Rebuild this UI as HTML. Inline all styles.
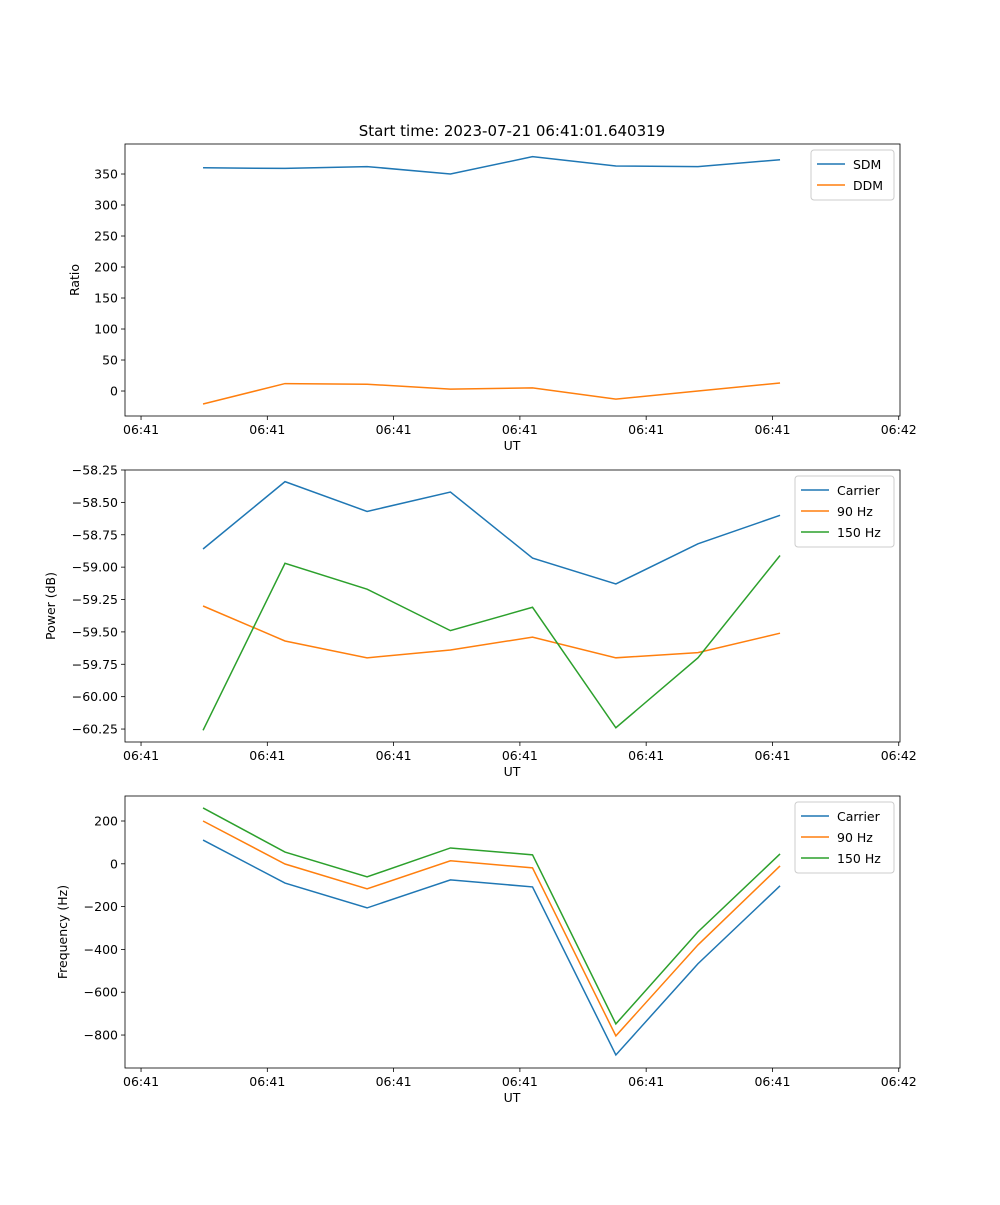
<!DOCTYPE html>
<html><head><meta charset="utf-8"><style>
body{margin:0;background:#fff}
svg text{font-family:"DejaVu Sans","Liberation Sans",sans-serif;font-size:12.5px;fill:#000}
</style></head><body>
<svg id="fig" width="1000" height="1200" xmlns="http://www.w3.org/2000/svg"></svg>
<script>
const times=[4.91,11.4,17.9,24.5,31.0,37.6,44.1,50.6];
const xTickVals=[0,10,20,30,40,50,60];
const xTickLabels=["06:41","06:41","06:41","06:41","06:41","06:41","06:42"];
const sdm=[360,359,362,350,378,363,362,373];
const ddm=[-21,12,11,3,5,-13,0,13];
const ratioTicks=[0,50,100,150,200,250,300,350];
const pwrCarrier=[-58.86,-58.34,-58.57,-58.42,-58.93,-59.13,-58.82,-58.60];
const pwr90=[-59.30,-59.57,-59.70,-59.64,-59.54,-59.70,-59.66,-59.51];
const pwr150=[-60.26,-58.97,-59.17,-59.49,-59.31,-60.24,-59.70,-58.91];
const pwrTicks=[-60.25,-60.00,-59.75,-59.50,-59.25,-59.00,-58.75,-58.50,-58.25];
const frqCarrier=[111,-90,-206,-75,-108,-893,-467,-103];
const frq90=[200,-1,-117,14,-19,-804,-379,-10];
const frq150=[261,55,-61,74,42,-748,-318,46];
const frqTicks=[-800,-600,-400,-200,0,200];
const C=["#1f77b4","#ff7f0e","#2ca02c"];
const NS="http://www.w3.org/2000/svg";
const svg=document.getElementById('fig');
function mk(t,a,p){const e=document.createElementNS(NS,t);for(const k in a)e.setAttribute(k,a[k]);(p||svg).appendChild(e);return e;}
const X0=125,X1=900;
const xs=t=>X0+(t+1.27)*(X1-X0)/61.37;
function panel(name,top,bot,ymin,ymax,ticks,fmt,ylabel,ylx,series,names,legW){
  const g=mk('g',{});
  
  
  const ys=v=>bot-(v-ymin)*(bot-top)/(ymax-ymin);
  series.forEach((s,i)=>{
    const p=mk('polyline',{points:s.map((v,j)=>xs(times[j])+','+ys(v)).join(' '),fill:'none',stroke:C[i],'stroke-width':1.5},g);
    
    
  });
  mk('rect',{x:X0,y:top,width:X1-X0,height:bot-top,fill:'none',stroke:'#000','stroke-width':0.8},g);
  xTickVals.forEach((v,i)=>{const x=xs(v);mk('line',{x1:x,x2:x,y1:bot,y2:bot+4,stroke:'#000','stroke-width':0.8},g);
    const t=mk('text',{x:x,y:bot+18,'text-anchor':'middle'},g);t.textContent=xTickLabels[i];
    });
  ticks.forEach(v=>{const y=ys(v);mk('line',{x1:X0-4,x2:X0,y1:y,y2:y,stroke:'#000','stroke-width':0.8},g);
    const t=mk('text',{x:X0-7,y:y+4.5,'text-anchor':'end'},g);t.textContent=fmt(v);
    });
  const xl=mk('text',{x:512,y:bot+34,'text-anchor':'middle'},g);xl.textContent='UT';
  
  const yl=mk('text',{x:ylx,y:(top+bot)/2,'text-anchor':'middle',transform:`rotate(-90 ${ylx} ${(top+bot)/2})`},g);yl.textContent=ylabel;
  
  const lg=mk('g',{},g);
  
  const lx=X1-6-legW,ly=top+6;
  mk('rect',{x:lx,y:ly,width:legW,height:8+names.length*21,rx:3,fill:'#fff',stroke:'#ccc'},lg);
  names.forEach((n,i)=>{const yy=ly+14+i*21;
    mk('line',{x1:lx+6,x2:lx+34,y1:yy,y2:yy,stroke:C[i],'stroke-width':1.5},lg);
    const t=mk('text',{x:lx+42,y:yy+5},lg);t.textContent=n;
    });
}
panel('ratio-panel',144,416,-40.3,398.4,ratioTicks,v=>String(v),'Ratio',79,[sdm,ddm],['SDM','DDM'],83);
panel('power-panel',470,742,-60.35,-58.25,pwrTicks,v=>v.toFixed(2).replace('-','\u2212'),'Power (dB)',55,[pwrCarrier,pwr90,pwr150],['Carrier','90 Hz','150 Hz'],99);
panel('frequency-panel',796,1068,-954,316.8,frqTicks,v=>String(v).replace('-','\u2212'),'Frequency (Hz)',67,[frqCarrier,frq90,frq150],['Carrier','90 Hz','150 Hz'],99);
const tt=mk('text',{x:512,y:136,'text-anchor':'middle',style:'font-size:15px'});
tt.textContent='Start time: 2023-07-21 06:41:01.640319';


</script>
</body></html>
